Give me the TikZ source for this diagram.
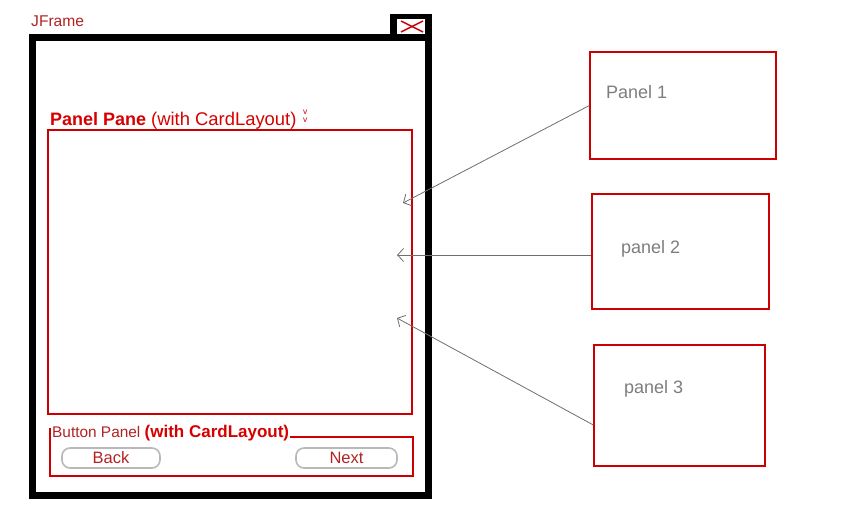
\documentclass[tikz,border=0pt]{standalone}
\usepackage{fontspec}
\setmainfont{Liberation Sans}
\usepackage{xcolor}
\definecolor{framered}{RGB}{178,34,34}
\definecolor{panered}{RGB}{214,0,0}
\definecolor{boxred}{RGB}{204,0,0}
\definecolor{textgray}{RGB}{125,125,125}
\definecolor{btngray}{RGB}{185,185,185}
\definecolor{linkgray}{RGB}{110,110,110}
\usetikzlibrary{arrows.meta, positioning, calc}

\tikzset{
  cardbox/.style={draw=boxred, line width=1.3pt, inner sep=0pt},
  cardtext/.style={font=\fontsize{18}{21}\selectfont, text=textgray, anchor=west, inner sep=0pt},
  btn/.style={draw=btngray, line width=1.6pt, rounded corners=8pt, minimum height=20pt,
    font=\fontsize{16.5}{19}\selectfont, text=framered, inner sep=0pt},
  link/.style={linkgray, line width=0.8pt, -{Straight Barb[length=6pt,width=13pt]}}
}

\begin{document}
\begin{tikzpicture}[x=1pt, y=-1pt]
  \useasboundingbox (0,0) rectangle (849,531);

  % JFrame outline and close button
  \node[font=\fontsize{15.6}{18}\selectfont, text=framered, anchor=west, inner sep=0pt] (title) at (31,21) {JFrame};
  \fill[black] (390,14) rectangle (432,38);
  \fill[white] (397,19) rectangle (425,34);
  \draw[red!80!black, line width=1.4pt] (401,21) -- (423,32);
  \draw[red!80!black, line width=1.4pt] (401,32) -- (423,21);
  \draw[line width=7pt] (32.5,37.5) rectangle (428.5,495.5);

  % Panel Pane (card area)
  \node[cardbox, line width=1.6pt, minimum width=364pt, minimum height=284pt] (pane) at (230,272) {};
  \node[anchor=base west, inner sep=0pt, text=panered, font=\fontsize{18}{21}\selectfont] (panelbl) at (50,125)
    {\textbf{Panel Pane} \fontsize{18.4}{21}\selectfont(with CardLayout)};
  \node[anchor=west, inner sep=0pt, align=center, text=panered,
    font=\fontsize{8.5}{8}\selectfont] (chev) at (303,116.5) {v\\v};

  % targets inside the pane
  \coordinate (in1) at (403,203);
  \coordinate (in2) at (397,255);
  \coordinate (in3) at (397,318);

  % Button panel
  \draw[boxred, line width=1.6pt] (290,437) -- (413,437) -- (413,476) -- (50,476) -- (50,428);
  \node[anchor=base west, inner sep=0pt, text=framered, font=\fontsize{15.4}{18}\selectfont] (btnlbl) at (52,437)
    {Button Panel \textcolor{panered}{\fontsize{17}{20}\selectfont\textbf{(with CardLayout)}}};
  \node[btn, minimum width=98pt] (back) at (111,458) {Back};
  \node[btn, minimum width=101pt] (next) at (346.5,458) {Next};

  % Cards on the right
  \node[cardbox, minimum width=186pt, minimum height=107pt] (p1) at (683,105.5) {};
  \node[cardtext] at (606,92) {Panel 1};
  \node[cardbox, minimum width=177pt, minimum height=115pt] (p2) at (680.5,251.5) {};
  \node[cardtext] at (621,249) {panel 2};
  \node[cardbox, minimum width=171pt, minimum height=121pt] (p3) at (679.5,405.5) {};
  \node[cardtext] at (624,389) {panel 3};

  % Arrows
  \draw[link] (p1.west) -- (in1);
  \draw[link] ($(p2.west)+(0,3.5)$) -- (in2);
  \draw[link] ($(p3.west)+(0,19.5)$) -- (in3);
\end{tikzpicture}
\end{document}
